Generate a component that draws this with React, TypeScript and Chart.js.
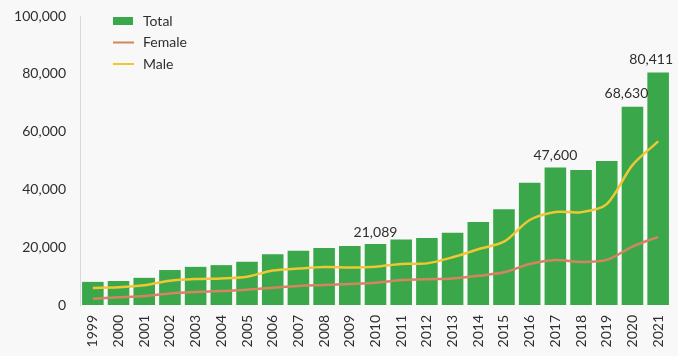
import React, { useEffect, useRef } from "react";
import { Chart, registerables } from "chart.js";

Chart.register(...registerables);

const years = [
  "1999", "2000", "2001", "2002", "2003", "2004", "2005", "2006", "2007", "2008",
  "2009", "2010", "2011", "2012", "2013", "2014", "2015", "2016", "2017", "2018",
  "2019", "2020", "2021",
];

const total = [
  8000, 8300, 9400, 12100, 13200, 13800, 15000, 17600, 18800, 19700,
  20400, 21089, 22700, 23200, 25000, 28700, 33100, 42300, 47600, 46700,
  49800, 68630, 80411,
];

const female = [
  2200, 2650, 3100, 4000, 4500, 4850, 5300, 6000, 6600, 6900,
  7250, 7700, 8650, 8900, 9200, 10100, 11300, 14200, 15600, 14900,
  15600, 20200, 23600,
];

const male = [
  5900, 6100, 6800, 8400, 9000, 9200, 9800, 11900, 12600, 13150,
  13000, 13250, 14200, 14400, 16500, 19300, 21900, 29400, 32200, 32100,
  34900, 48400, 56600,
];

const labelledYears = ["2010", "2017", "2020", "2021"];

const FONT = "Lato, 'DejaVu Sans', sans-serif";
const TEXT = "#2e2e2e";

const valueLabelPlugin = {
  id: "valueLabels",
  afterDatasetsDraw(chart: any) {
    const ctx = chart.ctx;
    const meta = chart.getDatasetMeta(0);
    const shift: Record<string, number> = { "2020": -6, "2021": -7 };
    const lift: Record<string, number> = { "2020": 9, "2021": 9 };
    ctx.save();
    ctx.font = `14px ${FONT}`;
    ctx.fillStyle = TEXT;
    ctx.textAlign = "center";
    ctx.textBaseline = "alphabetic";
    labelledYears.forEach((yr) => {
      const i = years.indexOf(yr);
      const el = meta.data[i];
      if (!el) return;
      const v = total[i].toLocaleString("en-US");
      ctx.fillText(v, el.x + (shift[yr] || 0), el.y - (lift[yr] || 7));
    });
    ctx.restore();
  },
};

const legendPlugin = {
  id: "customLegend",
  afterDraw(chart: any) {
    const ctx = chart.ctx;
    const ds = chart.data.datasets;
    const x0 = 113;
    const y0 = 21;
    const step = 21.5;
    ctx.save();
    ctx.font = `14px ${FONT}`;
    ctx.textBaseline = "middle";
    ctx.textAlign = "left";
    ds.forEach((d: any, k: number) => {
      const y = y0 + k * step;
      if (d.type === "bar") {
        ctx.fillStyle = d.backgroundColor;
        ctx.fillRect(x0, y - 4, 20, 8);
      } else {
        ctx.strokeStyle = d.borderColor;
        ctx.lineWidth = 2;
        ctx.beginPath();
        ctx.moveTo(x0, y);
        ctx.lineTo(x0 + 21, y);
        ctx.stroke();
      }
      ctx.fillStyle = TEXT;
      ctx.fillText(d.label, x0 + 30, y);
    });
    ctx.restore();
  },
};

export default function App() {
  const ref = useRef<HTMLCanvasElement | null>(null);

  useEffect(() => {
    document.body.style.margin = "0";
    document.body.style.background = "#f8f8f8";
    if (!ref.current) return;
    const chart = new Chart(ref.current, {
      type: "bar",
      data: {
        labels: years,
        datasets: [
          {
            type: "bar",
            label: "Total",
            data: total,
            backgroundColor: "#3aa84a",
            borderWidth: 0,
            barPercentage: 0.84,
            categoryPercentage: 1,
            order: 2,
          },
          {
            type: "line",
            label: "Female",
            data: female,
            borderColor: "#d4845e",
            borderWidth: 2.5,
            pointRadius: 0,
            tension: 0.3,
            fill: false,
            order: 1,
          },
          {
            type: "line",
            label: "Male",
            data: male,
            borderColor: "#efc634",
            borderWidth: 2.5,
            pointRadius: 0,
            tension: 0.3,
            fill: false,
            order: 0,
          },
        ] as any,
      },
      options: {
        animation: false,
        responsive: false,
        devicePixelRatio: 1,
        layout: { padding: { top: 16, right: 7, left: 0, bottom: 0 } },
        plugins: {
          legend: { display: false },
          tooltip: { enabled: false },
        },
        scales: {
          x: {
            grid: { display: false, drawTicks: false },
            border: { display: false },
            ticks: {
              minRotation: 90,
              maxRotation: 90,
              autoSkip: false,
              padding: 10,
              color: TEXT,
              font: { family: FONT, size: 14 },
            },
            afterFit: (scale: any) => {
              scale.height = 51;
              scale.paddingLeft = 0;
              scale.paddingRight = 0;
            },
          },
          y: {
            min: 0,
            max: 100000,
            grid: { display: false, drawTicks: false },
            border: { display: true, color: "#d9d9d9", width: 1 },
            ticks: {
              stepSize: 20000,
              padding: 14,
              color: TEXT,
              font: { family: FONT, size: 14 },
              callback: (v: any) => Number(v).toLocaleString("en-US"),
            },
            afterFit: (scale: any) => {
              scale.width = 80;
              scale.paddingTop = 0;
              scale.paddingBottom = 0;
            },
          },
        },
      },
      plugins: [valueLabelPlugin, legendPlugin],
    });
    return () => chart.destroy();
  }, []);

  return (
    <div style={{ position: "absolute", left: 0, top: 0, width: 678, height: 356, background: "#f8f8f8" }}>
      <canvas ref={ref} width={678} height={356} />
    </div>
  );
}
